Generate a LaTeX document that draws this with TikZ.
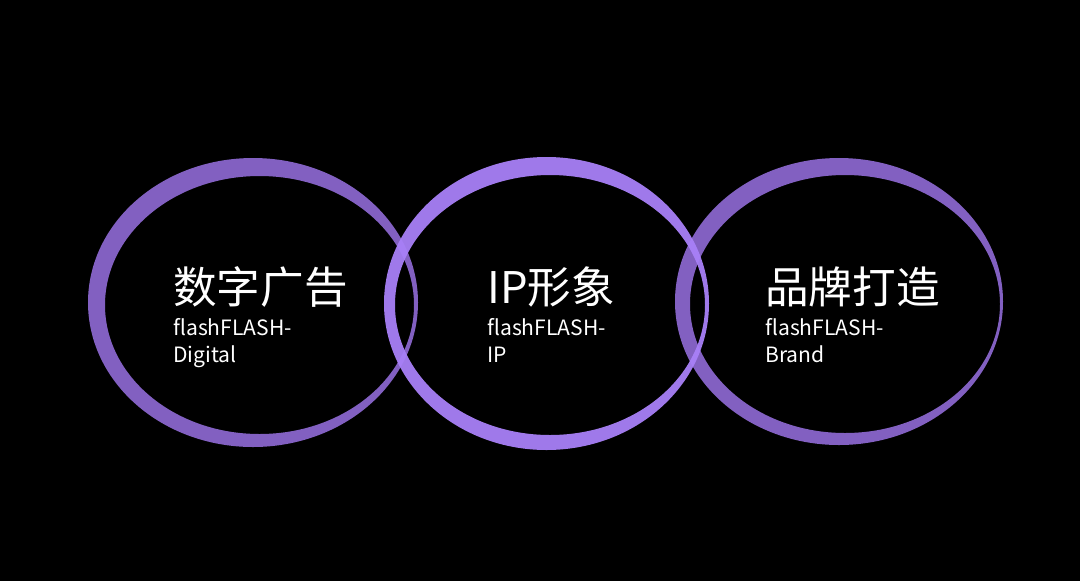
\documentclass[tikz,border=0pt]{standalone}
\usepackage{fontspec}
\setmainfont{Noto Sans CJK SC}
\usetikzlibrary{positioning}
\definecolor{ringside}{HTML}{8966CC}
\definecolor{ringmid}{HTML}{A880F7}

\begin{document}
\begin{tikzpicture}[
  x=0.025cm, y=-0.025cm,
  ring/.style={even odd rule, fill opacity=0.95},
  title/.style={anchor=base west, inner sep=0pt, text=white,
                font=\fontsize{31}{31}\selectfont},
  sub/.style={anchor=base west, inner sep=0pt, text=white, align=left,
              font=\fontsize{15}{19.2}\selectfont}
]

\fill[black] (0,0) rectangle (1080,581);
\useasboundingbox (0,0) rectangle (1080,581);

% rings
\fill[ring, fill=ringside] (253,302.5) ellipse [x radius=165, y radius=144.5]
  (259.5,305) ellipse [x radius=154.5, y radius=129];
\fill[ring, fill=ringside] (839,301.5) ellipse [x radius=164, y radius=143.5]
  (845,304) ellipse [x radius=155, y radius=129];
\fill[ring, fill=ringmid] (546.5,303.5) ellipse [x radius=162.5, y radius=146.5]
  (550,305) ellipse [x radius=155, y radius=130];

% texts (sub: base is the last line)
\node[title] (t1) at (173,303) {数字广告};
\node[sub] (s1) at (173,362) {flashFLASH-\\Digital};

\node[title] (t2) at (487,303) {IP形象};
\node[sub] (s2) at (487,362) {flashFLASH-\\IP};

\node[title] (t3) at (765,303) {品牌打造};
\node[sub] (s3) at (765,362) {flashFLASH-\\Brand};

\end{tikzpicture}
\end{document}
